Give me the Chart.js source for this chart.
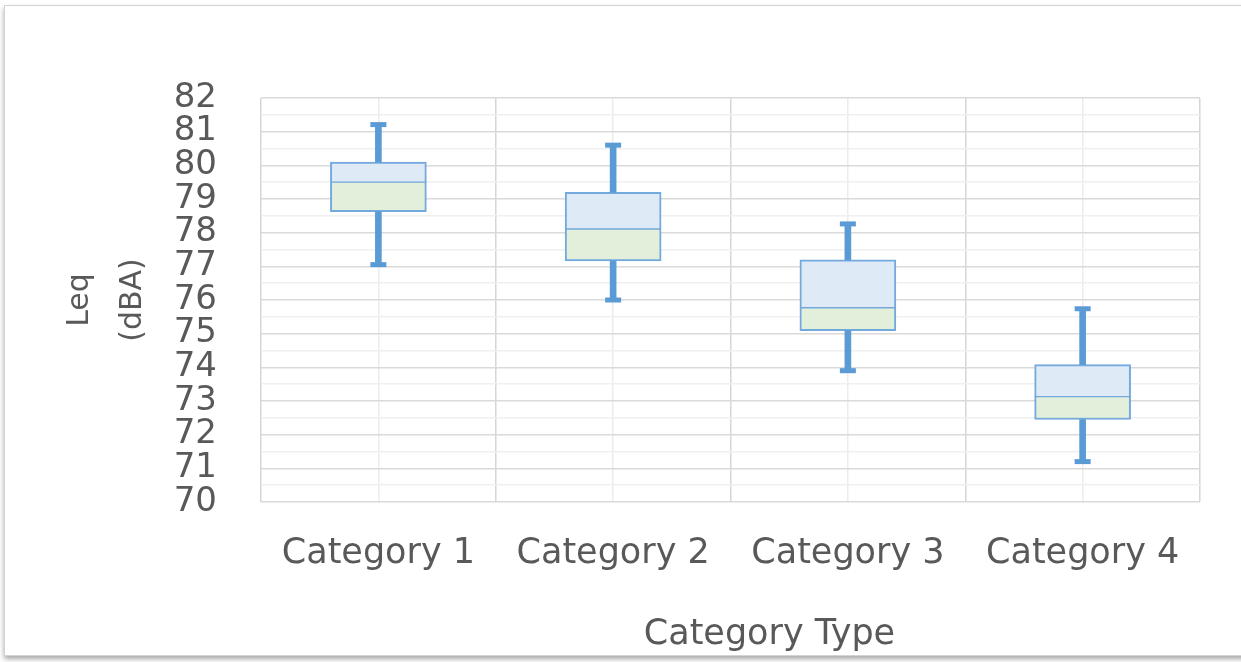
<!DOCTYPE html>
<html>
<head>
<meta charset="utf-8">
<script src="https://cdn.jsdelivr.net/npm/chart.js@4.4.1/dist/chart.umd.min.js"></script>
<style>
  html, body { margin: 0; padding: 0; background: #ffffff; overflow: hidden; }
  #frame { position: absolute; left: 4px; top: 5px; width: 1260px; height: 649px;
           border: 1px solid #d4d4d4; box-shadow: 0 3px 5px rgba(0,0,0,0.35); background: #fff; }
  #wrap { position: absolute; left: 0; top: 0; width: 1241px; height: 662px; }
</style>
</head>
<body>
<div id="frame"></div>
<div id="wrap"><canvas id="c" width="1241" height="662"></canvas></div>
<script>
const categories = ['Category 1', 'Category 2', 'Category 3', 'Category 4'];
const minValues    = [77.05, 76.00, 73.90, 71.20];
const q1Values     = [78.62, 77.16, 75.09, 72.45];
const medianValues = [79.50, 78.11, 75.77, 73.13];
const q3Values     = [80.10, 79.20, 77.19, 74.08];
const maxValues    = [81.21, 80.60, 78.26, 75.74];
const yTicksMin = 70, yTicksMax = 82;

const TEXT = '#595959';
const BLUE = '#5B9BD5';
const BOX_BORDER = '#74A9DD';

const rng = (a, b) => categories.map((_, i) => ({ x: i, y: [a[i], b[i]] }));
const pts = (a) => categories.map((_, i) => ({ x: i, y: a[i] }));
const isInt = (c) => !!(c && c.tick && Number.isInteger(c.tick.value));

new Chart(document.getElementById('c'), {
  type: 'bar',
  data: {
    datasets: [
      { type: 'line', label: 'max cap', data: pts(maxValues), showLine: false,
        pointStyle: 'line', pointRadius: 8, pointHoverRadius: 8, pointBorderWidth: 5, borderWidth: 5,
        borderColor: BLUE, backgroundColor: BLUE },
      { type: 'line', label: 'min cap', data: pts(minValues), showLine: false,
        pointStyle: 'line', pointRadius: 8, pointHoverRadius: 8, pointBorderWidth: 5, borderWidth: 5,
        borderColor: BLUE, backgroundColor: BLUE },
      { label: 'lower whisker', data: rng(minValues, q1Values), backgroundColor: BLUE,
        borderWidth: 0, barThickness: 6 },
      { label: 'upper whisker', data: rng(q3Values, maxValues), backgroundColor: BLUE,
        borderWidth: 0, barThickness: 6 },
      { label: 'Q1-median', data: rng(q1Values, medianValues), backgroundColor: '#E2EFDA',
        borderColor: BOX_BORDER, borderSkipped: false,
        borderWidth: { top: 1, bottom: 2, left: 2, right: 2 }, barThickness: 96 },
      { label: 'median-Q3', data: rng(medianValues, q3Values), backgroundColor: '#DEEBF7',
        borderColor: BOX_BORDER, borderSkipped: false,
        borderWidth: { top: 2, bottom: 1, left: 2, right: 2 }, barThickness: 96 }
    ]
  },
  options: {
    responsive: false,
    animation: false,
    devicePixelRatio: 1,
    datasets: { bar: { grouped: false } },
    layout: { padding: { top: 98, right: 41, bottom: 0, left: 0 } },
    plugins: { legend: { display: false }, tooltip: { enabled: false } },
    scales: {
      x: {
        type: 'linear',
        offset: false,
        min: -0.5, max: 3.5,
        afterFit: (s) => { s.height = 160; },
        border: { display: false, color: '#D6D6D6' },
        grid: {
          offset: false,
          drawTicks: false,
          color: (c) => isInt(c) ? '#ECECEC' : '#D6D6D6',
          lineWidth: 1.5
        },
        ticks: {
          stepSize: 0.5, autoSkip: false, maxRotation: 0, minRotation: 0,
          padding: 31, color: TEXT,
          font: { family: 'DejaVu Sans', size: 35 },
          callback: (v) => Number.isInteger(v) ? categories[v] : ''
        },
        title: {
          display: true, text: '       Category Type', color: TEXT,
          font: { family: 'DejaVu Sans', size: 35 },
          padding: { top: 0, bottom: 6 }
        }
      },
      y: {
        type: 'linear',
        min: yTicksMin, max: yTicksMax,
        afterFit: (s) => { s.width = 261; },
        border: { display: false, color: '#DADADA' },
        grid: {
          drawTicks: false,
          color: (c) => isInt(c) ? '#DADADA' : '#F0F0F0',
          lineWidth: 1.5
        },
        ticks: {
          stepSize: 0.5, autoSkip: false, padding: 44, color: TEXT,
          font: { family: 'DejaVu Sans', size: 34 },
          callback: (v) => Number.isInteger(v) ? String(v) : ''
        },
        title: {
          display: true, text: ['Leq', '(dBA)'], color: TEXT,
          font: { family: 'DejaVu Sans', size: 30, lineHeight: 1.75 },
          padding: { top: 54, bottom: 0 }
        }
      }
    }
  }
});
</script>
</body>
</html>
